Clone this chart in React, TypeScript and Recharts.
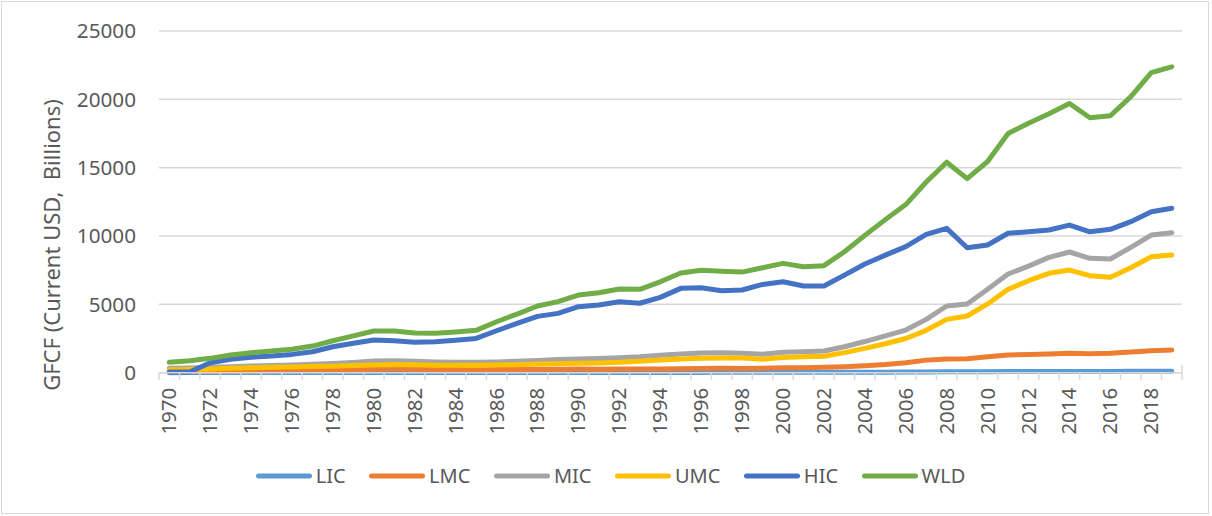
import React from 'react';
import { LineChart, Line, XAxis, YAxis, CartesianGrid, Legend } from 'recharts';

const years: string[] = [
  '1970','1971','1972','1973','1974','1975','1976','1977','1978','1979',
  '1980','1981','1982','1983','1984','1985','1986','1987','1988','1989',
  '1990','1991','1992','1993','1994','1995','1996','1997','1998','1999',
  '2000','2001','2002','2003','2004','2005','2006','2007','2008','2009',
  '2010','2011','2012','2013','2014','2015','2016','2017','2018','2019',
];

const LIC: number[] = [
  5, 6, 7, 8, 10, 11, 12, 14, 16, 18,
  20, 21, 20, 19, 18, 18, 19, 20, 21, 22,
  23, 22, 21, 21, 20, 21, 23, 24, 24, 24,
  25, 26, 28, 32, 37, 42, 48, 55, 64, 65,
  72, 80, 84, 88, 92, 90, 92, 98, 105, 110,
];

const LMC: number[] = [
  70, 80, 95, 110, 130, 145, 160, 175, 195, 220,
  250, 265, 255, 240, 230, 225, 230, 240, 245, 255,
  265, 260, 265, 270, 275, 290, 310, 325, 315, 325,
  355, 370, 395, 440, 510, 600, 730, 920, 1000, 1020,
  1160, 1290, 1340, 1370, 1420, 1390, 1420, 1510, 1610, 1660,
];

const MIC: number[] = [
  320, 340, 390, 440, 490, 530, 570, 610, 670, 750,
  850, 880, 840, 790, 760, 760, 790, 830, 900, 960,
  1010, 1040, 1090, 1160, 1270, 1360, 1450, 1460, 1420, 1350,
  1490, 1540, 1590, 1900, 2280, 2700, 3120, 3900, 4880, 5030,
  6100, 7220, 7800, 8440, 8830, 8370, 8320, 9170, 10070, 10240,
];

const UMC: number[] = [
  220, 240, 270, 320, 360, 390, 420, 450, 480, 520,
  570, 600, 580, 550, 540, 540, 560, 580, 630, 660,
  690, 710, 760, 830, 930, 1000, 1060, 1080, 1080, 980,
  1110, 1160, 1210, 1470, 1780, 2120, 2500, 3100, 3900, 4150,
  5030, 6100, 6730, 7270, 7510, 7100, 6980, 7680, 8480, 8610,
];

const HIC: number[] = [
  50, 50, 730, 980, 1130, 1220, 1340, 1530, 1900, 2150,
  2390, 2340, 2220, 2260, 2380, 2510, 3070, 3610, 4120, 4340,
  4830, 4950, 5190, 5080, 5510, 6170, 6220, 6000, 6050, 6460,
  6650, 6340, 6340, 7140, 7950, 8600, 9220, 10120, 10560, 9140,
  9340, 10200, 10310, 10440, 10800, 10310, 10490, 11050, 11780, 12030,
];

const WLD: number[] = [
  760, 880, 1050, 1300, 1460, 1590, 1710, 1950, 2340, 2690,
  3050, 3050, 2900, 2880, 2980, 3100, 3730, 4290, 4880, 5200,
  5680, 5850, 6120, 6100, 6650, 7300, 7500, 7420, 7360, 7680,
  8000, 7750, 7830, 8850, 10050, 11200, 12300, 13950, 15400, 14200,
  15450, 17500, 18250, 18950, 19700, 18650, 18800, 20200, 21950, 22380,
];

const yTicks: number[] = [0, 5000, 10000, 15000, 20000, 25000];

const seriesNames: string[] = ['LIC', 'LMC', 'MIC', 'UMC', 'HIC', 'WLD'];
const seriesColors: string[] = ['#5B9BD5', '#ED7D31', '#A5A5A5', '#FFC000', '#4472C4', '#70AD47'];
const seriesValues: number[][] = [LIC, LMC, MIC, UMC, HIC, WLD];

const data = years.map((year, i) => {
  const row: Record<string, string | number> = { year };
  seriesNames.forEach((name, s) => {
    row[name] = seriesValues[s][i];
  });
  return row;
});

const FONT = '"Noto Sans", "Open Sans", sans-serif';
const TEXT = '#595959';
const GRID = '#D9D9D9';

const W = 1212;
const H = 516;
const TOP = 31;
const PLOT_BOTTOM = 372.7;
const X_AXIS_H = 75;
const Y_AXIS_W = 159;
const RIGHT = 30;
const PLOT_W = W - Y_AXIS_W - RIGHT;
const BAND = PLOT_W / years.length;

const XTick = (props: any) => {
  const { x, y, payload, index } = props;
  const axisY = y - 15;
  const showLabel = index % 2 === 0;
  const tx = x + 7;
  const isLast = index === years.length - 1;
  return (
    <g>
      <line x1={x - BAND / 2} y1={axisY} x2={x - BAND / 2} y2={axisY + 7} stroke={GRID} strokeWidth={1.5} />
      {isLast && (
        <line x1={x + BAND / 2} y1={axisY - 8} x2={x + BAND / 2} y2={axisY + 7} stroke={GRID} strokeWidth={1.5} />
      )}
      {showLabel && (
        <text
          x={tx}
          y={y}
          transform={`rotate(-90 ${tx} ${y})`}
          textAnchor="end"
          fill={TEXT}
          fontFamily={FONT}
          fontSize={20.5}
        >
          {payload.value}
        </text>
      )}
    </g>
  );
};

const renderLegend = (props: any) => {
  const payload = ([...(props.payload || [])] as any[]).sort(
    (a, b) => seriesNames.indexOf(a.value) - seriesNames.indexOf(b.value)
  );
  return (
    <div
      style={{
        display: 'flex',
        justifyContent: 'center',
        alignItems: 'center',
        paddingLeft: 9,
        fontFamily: FONT,
        fontSize: 20,
        color: TEXT,
      }}
    >
      {payload.map((p, i) => (
        <div
          key={p.value}
          style={{ display: 'flex', alignItems: 'center', marginRight: i < payload.length - 1 ? 23.5 : 0 }}
        >
          <svg width={56} height={8} style={{ display: 'block' }}>
            <line x1={2.5} y1={4} x2={53.5} y2={4} stroke={p.color} strokeWidth={5} strokeLinecap="round" />
          </svg>
          <span style={{ marginLeft: 4, lineHeight: '24px' }}>{p.value}</span>
        </div>
      ))}
    </div>
  );
};

const YTitle = () => (
  <text
    x={60}
    y={245}
    transform="rotate(-90 60 245)"
    textAnchor="middle"
    fill={TEXT}
    fontFamily={FONT}
    fontSize={22}
    style={{ whiteSpace: 'pre' }}
  >
    {'GFCF (Current USD,  Billions)'}
  </text>
);

export default function App() {
  return (
    <div style={{ position: 'absolute', left: 0, top: 0, width: W, height: H, background: '#fff' }}>
      <div
        style={{
          position: 'absolute',
          left: 1,
          top: 1,
          width: 1208,
          height: 513,
          border: '1px solid #D9D9D9',
          boxSizing: 'border-box',
          pointerEvents: 'none',
        }}
      />
      <LineChart
        width={W}
        height={H}
        data={data}
        margin={{ top: TOP, right: RIGHT, left: 0, bottom: H - PLOT_BOTTOM - X_AXIS_H }}
      >
        <CartesianGrid vertical={false} stroke={GRID} strokeWidth={1.5} />
        <XAxis
          dataKey="year"
          scale="band"
          interval={0}
          height={X_AXIS_H}
          tickLine={false}
          tickSize={7}
          tickMargin={8}
          axisLine={{ stroke: GRID, strokeWidth: 1.5 }}
          tick={<XTick />}
        />
        <YAxis
          width={Y_AXIS_W}
          domain={[0, 25000]}
          ticks={yTicks}
          interval={0}
          axisLine={false}
          tickLine={false}
          tickSize={6}
          tickMargin={17}
          tick={{ fill: TEXT, fontFamily: FONT, fontSize: 20.7 }}
          label={{ content: () => <YTitle /> }}
        />
        <Legend
          layout="horizontal"
          verticalAlign="middle"
          align="center"
          content={renderLegend}
          wrapperStyle={{ top: 464, left: 0, width: W }}
        />
        {seriesNames.map((name, s) => (
          <Line
            key={name}
            type="linear"
            dataKey={name}
            name={name}
            stroke={seriesColors[s]}
            strokeWidth={5}
            strokeLinejoin="round"
            strokeLinecap="round"
            dot={false}
            activeDot={false}
            isAnimationActive={false}
            legendType="line"
          />
        ))}
      </LineChart>
    </div>
  );
}
